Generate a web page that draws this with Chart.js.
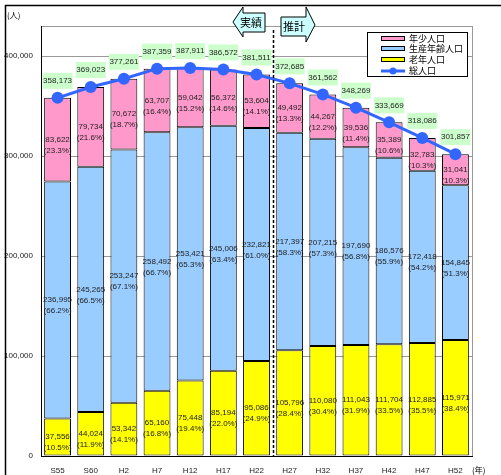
<!DOCTYPE html>
<html lang="ja">
<head>
<meta charset="UTF-8">
<title>人口の推移</title>
<style>
  html, body { margin: 0; padding: 0; background: #fff; }
  #wrap { width: 501px; height: 475px; }
</style>
</head>
<body>
<div id="wrap"><canvas id="pop-chart" width="501" height="475"></canvas></div>

<script src="https://cdn.jsdelivr.net/npm/chart.js"></script>
<script>
// years (実績: S55-H22, 推計: H27-H52)
const years = ["S55", "S60", "H2", "H7", "H12", "H17", "H22", "H27", "H32", "H37", "H42", "H47", "H52"];

const youth   = [83622, 79734, 70672, 63707, 59042, 56372, 53604, 49492, 44267, 39536, 35389, 32783, 31041];
const working = [236995, 245265, 253247, 258492, 253421, 245006, 232821, 217397, 207215, 197690, 186576, 172418, 154845];
const elderly = [37556, 44024, 53342, 65160, 75448, 85194, 95086, 105796, 110080, 111043, 111704, 112885, 115971];
const total   = [358173, 369023, 377261, 387359, 387911, 386572, 381511, 372685, 361562, 348269, 333669, 318086, 301857];

const youthPct   = [23.3, 21.6, 18.7, 16.4, 15.2, 14.6, 14.1, 13.3, 12.2, 11.4, 10.6, 10.3, 10.3];
const workingPct = [66.2, 66.5, 67.1, 66.7, 65.3, 63.4, 61.0, 58.3, 57.3, 56.8, 55.9, 54.2, 51.3];
const elderlyPct = [10.5, 11.9, 14.1, 16.8, 19.4, 22.0, 24.9, 28.4, 30.4, 31.9, 33.5, 35.5, 38.4];

const yTicks = [0, 100000, 200000, 300000, 400000];
const lastActual = "H22";

const NUM_FONT = "8px 'Liberation Sans', Arial, sans-serif";
const JP_FONT = "'Noto Sans CJK JP', sans-serif";

function fmt(v) {
  return v.toLocaleString("en-US");
}

// value + share labels inside each stacked segment, total labels over the line
const labelPlugin = {
  id: "segmentLabels",
  afterDatasetsDraw(chart) {
    const ctx = chart.ctx;
    const pcts = [elderlyPct, workingPct, youthPct];
    ctx.save();
    ctx.font = NUM_FONT;
    ctx.fillStyle = "#222";
    ctx.textAlign = "center";
    ctx.textBaseline = "middle";
    for (let d = 0; d < 3; d++) {
      const meta = chart.getDatasetMeta(d);
      const values = chart.data.datasets[d].data;
      meta.data.forEach((bar, i) => {
        const mid = (bar.y + bar.base) / 2;
        ctx.fillText(fmt(values[i]), bar.x, mid);
        ctx.fillText("(" + pcts[d][i].toFixed(1) + "%)", bar.x, mid + 11);
      });
    }

    const lineMeta = chart.getDatasetMeta(3);
    lineMeta.data.forEach((pt, i) => {
      const cy = pt.y - 17;
      ctx.fillStyle = "#ccffcc";
      ctx.fillRect(pt.x - 15, cy - 8, 30, 16);
      ctx.fillStyle = "#222";
      ctx.fillText(fmt(total[i]), pt.x, cy);
    });
    ctx.restore();
  }
};

// frame, divider between actual and projected, arrows, legend, unit labels
const decorPlugin = {
  id: "decor",
  afterDraw(chart) {
    const ctx = chart.ctx;
    const area = chart.chartArea;
    const x = chart.scales.x;
    const idx = years.indexOf(lastActual);
    const divX = Math.round((x.getPixelForValue(idx) + x.getPixelForValue(idx + 1)) / 2) + 0.5;

    ctx.save();
    // right edge of the plot
    ctx.strokeStyle = "#999";
    ctx.lineWidth = 1;
    ctx.beginPath();
    ctx.moveTo(Math.round(area.right) + 0.5, area.top);
    ctx.lineTo(Math.round(area.right) + 0.5, area.bottom);
    ctx.stroke();

    // dashed divider
    ctx.strokeStyle = "#000";
    ctx.lineWidth = 1.5;
    ctx.setLineDash([3, 2]);
    ctx.beginPath();
    ctx.moveTo(divX, 30);
    ctx.lineTo(divX, area.bottom);
    ctx.stroke();
    ctx.setLineDash([]);

    // 実績 (left arrow) / 推計 (right arrow)
    ctx.lineWidth = 1;
    ctx.fillStyle = "#ccffff";
    ctx.strokeStyle = "#000";
    ctx.beginPath();
    ctx.moveTo(233, 22);
    ctx.lineTo(243, 7);
    ctx.lineTo(243, 13);
    ctx.lineTo(265, 13);
    ctx.lineTo(265, 32);
    ctx.lineTo(243, 32);
    ctx.lineTo(243, 37);
    ctx.closePath();
    ctx.fill();
    ctx.stroke();

    ctx.beginPath();
    ctx.moveTo(281, 17);
    ctx.lineTo(306, 17);
    ctx.lineTo(306, 7);
    ctx.lineTo(315, 25);
    ctx.lineTo(306, 42);
    ctx.lineTo(306, 36);
    ctx.lineTo(281, 36);
    ctx.closePath();
    ctx.fill();
    ctx.stroke();

    ctx.fillStyle = "#000";
    ctx.font = "11px " + JP_FONT;
    ctx.textAlign = "center";
    ctx.textBaseline = "middle";
    ctx.fillText("実績", 251, 23);
    ctx.fillText("推計", 294, 27);

    // legend
    ctx.fillStyle = "#fff";
    ctx.fillRect(367, 32, 100, 44);
    ctx.strokeRect(367.5, 32.5, 100, 44);
    const items = [
      ["年少人口", "#ff99cc", 38.5],
      ["生産年齢人口", "#99ccff", 48.5],
      ["老年人口", "#ffff00", 59.5]
    ];
    ctx.textAlign = "left";
    ctx.font = "9px " + JP_FONT;
    items.forEach(([name, color, cy]) => {
      ctx.fillStyle = color;
      ctx.fillRect(381.5, cy - 2, 23, 4);
      ctx.strokeRect(381.5, cy - 2, 23, 4);
      ctx.fillStyle = "#000";
      ctx.fillText(name, 409, cy);
    });
    ctx.strokeStyle = "#3366ff";
    ctx.lineWidth = 3;
    ctx.beginPath();
    ctx.moveTo(381, 71);
    ctx.lineTo(405, 71);
    ctx.stroke();
    ctx.fillStyle = "#3366ff";
    ctx.beginPath();
    ctx.arc(393, 71, 3.5, 0, Math.PI * 2);
    ctx.fill();
    ctx.fillStyle = "#000";
    ctx.fillText("総人口", 409, 71);

    // units
    ctx.font = "8px " + JP_FONT;
    ctx.fillText("(人)", 7, 15);
    ctx.fillText("(年)", 472, 470);

    // outer frame
    ctx.strokeStyle = "#000";
    ctx.lineWidth = 1.5;
    ctx.beginPath();
    ctx.moveTo(5.5, 475);
    ctx.lineTo(5.5, 5.5);
    ctx.lineTo(501, 5.5);
    ctx.stroke();
    ctx.restore();
  }
};

const barStyle = {
  borderColor: "#000",
  borderWidth: 1,
  borderSkipped: false,
  stack: "pop",
  order: 2,
  categoryPercentage: 1,
  barPercentage: 0.81
};

new Chart(document.getElementById("pop-chart"), {
  type: "bar",
  data: {
    labels: years,
    datasets: [
      Object.assign({ label: "老年人口", data: elderly, backgroundColor: "#ffff00" }, barStyle),
      Object.assign({ label: "生産年齢人口", data: working, backgroundColor: "#99ccff" }, barStyle),
      Object.assign({ label: "年少人口", data: youth, backgroundColor: "#ff99cc" }, barStyle),
      {
        type: "line",
        label: "総人口",
        data: total,
        stack: "total",
        order: 0,
        borderColor: "#3366ff",
        backgroundColor: "#3366ff",
        borderWidth: 3,
        pointRadius: 6,
        pointBorderWidth: 0,
        tension: 0
      }
    ]
  },
  options: {
    responsive: false,
    animation: false,
    devicePixelRatio: 1,
    layout: { padding: { top: 26, right: 29, left: 0, bottom: 0 } },
    plugins: {
      legend: { display: false },
      tooltip: { enabled: false }
    },
    scales: {
      x: {
        stacked: true,
        grid: { display: false, drawTicks: false },
        border: { color: "#000" },
        ticks: { color: "#222", font: { size: 8, family: "'Liberation Sans', Arial" }, padding: 10, maxRotation: 0 },
        afterFit: (s) => { s.height = 19; }
      },
      y: {
        stacked: true,
        min: 0,
        max: 430000,
        afterBuildTicks: (s) => {
          s.ticks = yTicks.concat([430000]).map((v) => ({ value: v }));
        },
        ticks: {
          color: "#222",
          font: { size: 8, family: "'Liberation Sans', Arial" },
          padding: 8,
          callback: (v) => (yTicks.includes(v) ? fmt(v) : "")
        },
        grid: { color: "#999", drawTicks: false },
        border: { color: "#000" },
        afterFit: (s) => { s.width = 41; }
      }
    }
  },
  plugins: [labelPlugin, decorPlugin]
});
</script>
</body>
</html>
